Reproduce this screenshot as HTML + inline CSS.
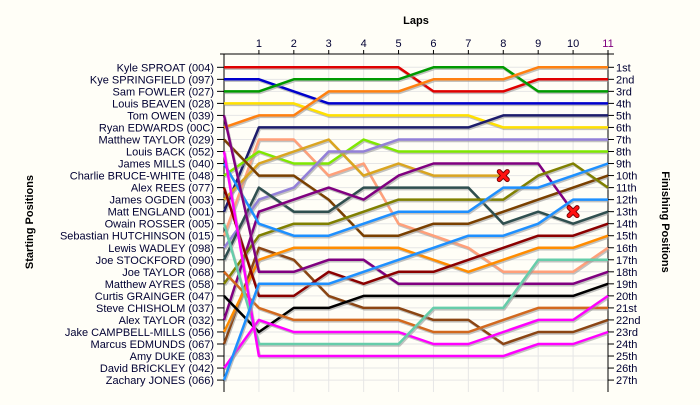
<!DOCTYPE html>
<html><head><meta charset="utf-8"><style>
html,body{margin:0;padding:0;background:#fffef7;}
svg{display:block;font-family:"Liberation Sans",sans-serif;}
</style></head><body>
<svg id="chart" width="700" height="405" viewBox="0 0 700 405" xmlns="http://www.w3.org/2000/svg">
<rect x="0" y="0" width="700" height="405" fill="#fffef7"/>
<text x="416" y="24" font-size="11" font-weight="bold" text-anchor="middle" fill="#000">Laps</text>
<text transform="translate(33,222) rotate(-90)" font-size="11" font-weight="bold" text-anchor="middle" fill="#000">Starting Positions</text>
<text transform="translate(662,222) rotate(90)" font-size="11" font-weight="bold" text-anchor="middle" fill="#000">Finishing Positions</text>
<g id="grid"></g>
<g id="axes"></g>
<g id="series"></g>
</svg>
<script>
const laps = [0,1,2,3,4,5,6,7,8,9,10,11];
const startNames = ["Kyle SPROAT (004)","Kye SPRINGFIELD (097)","Sam FOWLER (027)","Louis BEAVEN (028)","Tom OWEN (039)","Ryan EDWARDS (00C)","Matthew TAYLOR (029)","Louis BACK (052)","James MILLS (040)","Charlie BRUCE-WHITE (048)","Alex REES (077)","James OGDEN (003)","Matt ENGLAND (001)","Owain ROSSER (005)","Sebastian HUTCHINSON (015)","Lewis WADLEY (098)","Joe STOCKFORD (090)","Joe TAYLOR (068)","Matthew AYRES (058)","Curtis GRAINGER (047)","Steve CHISHOLM (037)","Alex TAYLOR (032)","Jake CAMPBELL-MILLS (056)","Marcus EDMUNDS (067)","Amy DUKE (083)","David BRICKLEY (042)","Zachary JONES (066)"];
const finishLabels = ["1st","2nd","3rd","4th","5th","6th","7th","8th","9th","10th","11th","12th","13th","14th","15th","16th","17th","18th","19th","20th","21st","22nd","23rd","24th","25th","26th","27th"];
const seriesColors = ["#e00000","#0000cc","#009a00","#ffe000","#ff8010","#1c1c6c","#ffa07a","#7fe800","#daa520","#9380d8","#7a4000","#2f4f4f","#800080","#808000","#1e90ff","#8b4513","#ff8c00","#800080","#8b0000","#000000","#d2691e","#ff00ff","#66cdaa","#ff00ff","#1e90ff"];
const posRed = [1,1,1,1,1,1,3,3,3,2,2,2];
const posBlue = [2,2,3,4,4,4,4,4,4,4,4,4];
const posGreen = [3,3,2,2,2,2,1,1,1,3,3,3];
const posYellow = [4,4,4,5,5,5,5,5,6,6,6,6];
const posOrange = [6,5,5,3,3,3,2,2,2,1,1,1];
const posNavy = [13,6,6,6,6,6,6,6,5,5,5,5];
const posSalmon = [15,7,7,10,9,14,15,16,18,18,18,16];
const posLime = [10,8,9,9,7,8,8,8,8,8,8,8];
const posGold = [12,9,8,7,10,9,10,10,10];
const posLavender = [16,12,11,8,8,7,7,7,7,7,7,7];
const posBrown = [7,10,10,12,15,15,14,14,13,12,11,10];
const posSlate = [17,11,13,13,11,11,11,11,14,13,14,13];
const posPurple = [22,13,12,11,12,10,9,9,9,9,13];
const posOlive = [19,15,14,14,13,12,12,12,12,10,9,11];
const posDodger = [9,14,15,15,14,13,13,13,11,11,10,9];
const posBrown2 = [24,16,17,20,21,21,22,22,24,23,23,22];
const posOrange2 = [23,17,16,16,16,16,17,18,17,16,16,15];
const posPurple2 = [5,18,18,17,17,19,19,19,19,19,19,18];
const posDarkRed = [11,20,20,18,19,18,18,17,16,15,15,14];
const posBlack = [20,23,21,21,20,20,20,20,20,20,20,19];
const posPeru = [18,21,22,22,22,22,23,23,22,21,21,21];
const posMagenta = [26,22,23,23,23,23,24,24,23,22,22,20];
const posSeafoam = [14,24,24,24,24,24,21,21,21,17,17,17];
const posMagenta2 = [8,25,25,25,25,25,25,25,25,24,24,23];
const posDodger2 = [27,19,19,19,18,17,16,15,15,14,12,12];
const allSeries = [posRed,posBlue,posGreen,posYellow,posOrange,posNavy,posSalmon,posLime,posGold,posLavender,posBrown,posSlate,posPurple,posOlive,posDodger,posBrown2,posOrange2,posPurple2,posDarkRed,posBlack,posPeru,posMagenta,posSeafoam,posMagenta2,posDodger2];
const retiredSeries = [8,12];

const NS="http://www.w3.org/2000/svg";
const X0=224, X1=608, Y0=67.3, ROW=12.03, TOP=54, BOT=392;
function xLap(l){return X0+(X1-X0)*l/11;}
function yPos(p){return Y0+(p-1)*ROW;}
function mk(tag,attrs,parent){const e=document.createElementNS(NS,tag);for(const k in attrs)e.setAttribute(k,attrs[k]);parent.appendChild(e);return e;}
const grid=document.getElementById('grid'), axes=document.getElementById('axes'), ser=document.getElementById('series');
for(let i=0;i<27;i++){
  const g=mk('line',{x1:X0,x2:X1,y1:yPos(i+1),y2:yPos(i+1),stroke:'#e6e6e6','stroke-width':1},grid);
  
  
}
for(const l of laps){ if(l===0)continue;
  const g=mk('line',{x1:xLap(l),x2:xLap(l),y1:TOP,y2:BOT,stroke:'#e6e6e6','stroke-width':1},grid);
  
  
}
mk('line',{x1:X0-4,x2:X1+6,y1:TOP,y2:TOP,stroke:'#000','stroke-width':1},axes);
mk('line',{x1:X0,x2:X0,y1:TOP,y2:BOT,stroke:'#000','stroke-width':1},axes);
mk('line',{x1:X1,x2:X1,y1:TOP-3,y2:BOT,stroke:'#000','stroke-width':1},axes);
for(const l of laps){ if(l===0)continue;
  mk('line',{x1:xLap(l),x2:xLap(l),y1:TOP-4,y2:TOP,stroke:'#000','stroke-width':1},axes);
  const t=mk('text',{x:xLap(l),y:TOP-7,'font-size':11,'text-anchor':'middle',fill:l===11?'#800080':'#000033'},axes);
  t.textContent=l;
  
  
}
startNames.forEach((n,i)=>{
  const y=yPos(i+1);
  mk('line',{x1:X0-7,x2:X0,y1:y,y2:y,stroke:'#000','stroke-width':1},axes);
  const t=mk('text',{x:X0-10,y:y+4,'font-size':11,'text-anchor':'end',fill:'#000033'},axes);
  t.textContent=n;
  
  
});
finishLabels.forEach((n,i)=>{
  const y=yPos(i+1);
  mk('line',{x1:X1,x2:X1+6,y1:y,y2:y,stroke:'#000','stroke-width':1},axes);
  const t=mk('text',{x:X1+8,y:y+4,'font-size':11,fill:'#000033'},axes);
  t.textContent=n;
  
  
});
allSeries.forEach((s,i)=>{
  const pts=s.map((p,l)=>xLap(l).toFixed(1)+','+yPos(p).toFixed(1)).join(' ');
  const sh=mk('polyline',{points:pts,fill:'none',stroke:'#9a9a9a','stroke-width':2.5,'stroke-opacity':0.6,transform:'translate(1,1.5)','stroke-linejoin':'round'},ser);
  
  
  const pl=mk('polyline',{points:pts,fill:'none',stroke:seriesColors[i],'stroke-width':2.5,'stroke-linejoin':'round'},ser);
  
  
});
retiredSeries.forEach(i=>{
  const s=allSeries[i], l=s.length-1, x=xLap(l), y=yPos(s[l]);
  const g=mk('g',{},ser);
  
  
  const d=`M${x-4},${y-4}L${x+4},${y+4}M${x+4},${y-4}L${x-4},${y+4}`;
  mk('path',{d:d,stroke:'#700000',"stroke-width":5,"stroke-linecap":"round"},g);
  mk('path',{d:d,stroke:'#ff1010',"stroke-width":3.2,"stroke-linecap":"round"},g);
});
</script>
</body></html>
